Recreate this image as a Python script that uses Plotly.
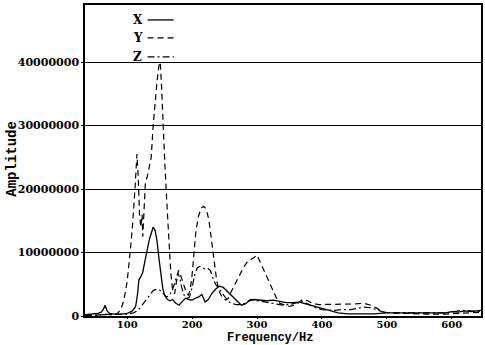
import plotly.graph_objects as go

# ---- data (amplitudes in units of 1e6) ----
freq_x = [35, 45, 55, 60, 63, 66, 69, 73, 80, 90, 100, 108, 113, 116, 118, 121, 124, 127, 130, 134,
          137, 140, 143, 146, 149, 152, 155, 158, 162, 166, 170, 175, 180, 185, 190, 195, 200, 205,
          210, 215, 220, 225, 230, 236, 242, 248, 254, 260, 265, 270, 276, 282, 288, 295, 305, 315,
          325, 335, 345, 355, 365, 375, 385, 395, 405, 415, 425, 440, 460, 480, 500, 520, 550, 570,
          590, 600, 610, 620, 630, 645]
amp_x = [0.2, 0.3, 0.4, 0.6, 1.0, 1.7, 0.8, 0.4, 0.3, 0.3, 0.4, 0.8, 1.5, 3.5, 5.7, 6.2, 6.9, 8.5, 10.2, 12.0,
         13.0, 14.0, 13.5, 11.8, 9.0, 6.5, 4.2, 3.2, 2.6, 2.4, 2.6, 2.0, 1.7, 2.3, 2.8, 2.6, 2.5, 2.8,
         3.0, 3.4, 2.2, 2.6, 3.5, 4.2, 4.7, 4.5, 3.9, 3.2, 2.8, 2.3, 1.7, 1.9, 2.4, 2.6, 2.5, 2.4,
         2.5, 2.3, 2.1, 2.1, 2.2, 1.9, 1.6, 1.3, 1.0, 0.7, 0.5, 0.35, 0.3, 0.35, 0.5, 0.5, 0.5, 0.45,
         0.5, 0.7, 0.6, 0.8, 0.7, 0.9]

freq_y = [35, 50, 65, 75, 85, 90, 95, 100, 104, 108, 112, 115, 117, 119, 121, 123, 124, 126, 128, 131,
          134, 137, 140, 143, 146, 149, 151, 153, 155, 158, 161, 164, 167, 170, 173, 176, 179, 182, 185,
          188, 191, 194, 197, 200, 203, 206, 210, 214, 218, 222, 226, 230, 234, 238, 242, 247, 252, 256,
          260, 265, 270, 275, 280, 285, 290, 295, 300, 305, 310, 315, 320, 325, 330, 335, 340, 350, 360,
          370, 378, 385, 395, 410, 430, 450, 465, 475, 485, 495, 505, 530, 560, 590, 610, 630, 645]
amp_y = [0.1, 0.1, 0.3, 0.2, 0.4, 1.0, 2.5, 5.5, 9.5, 14, 20, 25.5, 22, 16, 14, 16, 12.5, 18, 21, 22,
         23.5, 25, 30, 34, 37, 39.5, 40, 36, 30, 24, 18, 12, 7, 4, 3.5, 5.5, 7.2, 6.5, 5.5,
         4.5, 3.7, 3.3, 4.0, 6.5, 10, 13.5, 15.8, 17, 17.3, 16.8, 15, 12, 8.5, 5.5, 3.8, 2.8, 2.5, 2.8,
         3.8, 4.8, 5.8, 6.8, 7.8, 8.5, 8.8, 9.2, 9.6, 8.5, 7.3, 6.2, 5.2, 4.0, 2.8, 2.0, 1.8, 1.5, 1.8,
         2.6, 2.4, 2.0, 1.8, 1.8, 1.8, 1.9, 2.0, 1.7, 1.2, 0.6, 0.5, 0.4, 0.3, 0.3, 0.4, 0.5, 0.6]

freq_z = [35, 60, 80, 100, 110, 115, 120, 125, 130, 135, 140, 145, 150, 155, 160, 165, 170, 175, 178,
          181, 184, 188, 192, 196, 200, 204, 208, 212, 216, 220, 224, 228, 232, 236, 240, 245, 250, 255,
          260, 268, 275, 282, 290, 300, 310, 320, 330, 340, 350, 360, 370, 380, 390, 400, 410, 420, 430,
          445, 455, 465, 475, 485, 495, 510, 540, 570, 590, 600, 615, 630, 645]
amp_z = [0.1, 0.2, 0.2, 0.3, 0.5, 0.8, 1.3, 2.0, 2.8, 3.5, 4.0, 4.2, 4.1, 3.6, 3.0, 3.2, 4.2, 5.8, 6.8,
         6.0, 4.5, 3.2, 2.8, 3.0, 4.5, 6.5, 7.6, 7.8, 7.6, 7.4, 7.5, 7.2, 6.0, 5.0, 4.5, 3.8, 3.0, 2.4,
         2.0, 1.8, 1.8, 2.0, 2.6, 2.4, 2.2, 2.0, 1.8, 1.7, 1.8, 2.0, 2.3, 1.8, 1.3, 1.0, 0.9, 0.9, 1.0,
         1.0, 1.2, 1.4, 1.3, 0.9, 0.6, 0.5, 0.5, 0.4, 0.5, 0.6, 0.9, 0.8, 0.7]

y_ticks = [0, 10000000, 20000000, 30000000, 40000000]
x_ticks = [100, 200, 300, 400, 500, 600]
series_names = ["X", "Y", "Z"]

SCALE = 1e6
fig = go.Figure()
styles = [("solid", 1.3), ("6px,4px", 1.2), ("7px,3px,2px,3px", 1.2)]
for name, fx, ay, (dash, w) in zip(series_names, [freq_x, freq_y, freq_z], [amp_x, amp_y, amp_z], styles):
    fig.add_trace(go.Scatter(x=fx, y=[v * SCALE for v in ay], mode="lines", name=name,
                             line=dict(color="black", width=w, dash=dash), showlegend=False))

tick_font = dict(family="DejaVu Serif", size=11, color="black", weight="bold")
fig.update_layout(
    width=485, height=345,
    margin=dict(l=85, r=2, t=5, b=29),
    paper_bgcolor="white", plot_bgcolor="white",
    xaxis=dict(range=[35, 645], tickvals=x_ticks, showgrid=False, zeroline=False,
               showline=True, linecolor="black", linewidth=1.5, mirror=True,
               ticks="outside", ticklen=1, tickcolor="black", tickfont=dict(tick_font, size=10),
               ticklabelstandoff=-3),
    yaxis=dict(range=[0, 49e6], tickvals=y_ticks, ticktext=[str(v) for v in y_ticks],
               showgrid=True, gridcolor="black", gridwidth=1.3, zeroline=False,
               showline=True, linecolor="black", linewidth=1.5, mirror=True,
               ticks="outside", ticklen=2, tickcolor="black", tickfont=tick_font),
)

# axis titles
fig.add_annotation(text="Frequency/Hz", xref="paper", yref="paper", x=0.467, y=-0.0707,
                   xanchor="center", yanchor="middle", showarrow=False, borderpad=0,
                   font=dict(family="Liberation Mono", size=12, color="black", weight="bold"))
fig.add_annotation(text="Amplitude", xref="paper", yref="paper", x=-0.185, y=0.505,
                   xanchor="center", yanchor="middle", textangle=-90, showarrow=False,
                   font=dict(family="Liberation Mono", size=14, color="black", weight="bold"))

# legend drawn as text + line samples
leg_y = [0.952, 0.894, 0.833]
for name, yy, (dash, w) in zip(series_names, leg_y, styles):
    fig.add_annotation(text=name, xref="paper", yref="paper", x=0.133, y=yy,
                       xanchor="center", yanchor="middle", showarrow=False,
                       font=dict(family="DejaVu Serif", size=12, color="black", weight="bold"))
    fig.add_shape(type="line", xref="paper", yref="paper", x0=0.158, x1=0.224, y0=yy, y1=yy,
                  line=dict(color="black", width=w, dash=dash))

fig.write_html("out.html")
